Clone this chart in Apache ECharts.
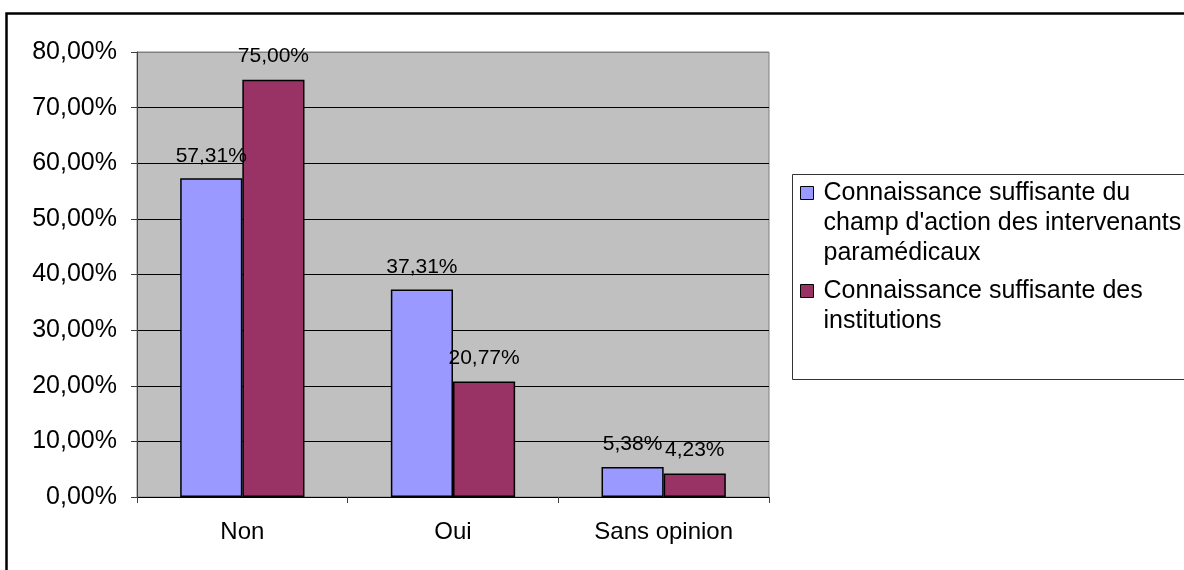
<!DOCTYPE html>
<html>
<head>
<meta charset="utf-8">
<script src="https://cdn.jsdelivr.net/npm/echarts@6/dist/echarts.min.js"></script>
<style>
html,body{margin:0;padding:0;background:#fff;}
#main{width:1184px;height:570px;}
</style>
</head>
<body>
<div id="main"></div>
<script>
const categories = ['Non', 'Oui', 'Sans opinion'];
const seriesNames = [
  "Connaissance suffisante du\nchamp d'action des intervenants\nparamédicaux",
  "Connaissance suffisante des\ninstitutions"
];
const valuesParamedical = [57.31, 37.31, 5.38];
const valuesInstitutions = [75.00, 20.77, 4.23];
const yTicks = { min: 0, max: 80, interval: 10 };

const FONT = '"Liberation Sans", Arial, sans-serif';
const fmt = v => Number(v).toFixed(2).replace('.', ',') + '%';
// put the icon beside the first text line: prepend (lines-1) blank lines
const topAlign = name => '\n'.repeat(name.split('\n').length - 1) + name;

const chart = echarts.init(document.getElementById('main'), null, { renderer: 'canvas' });
const splitColors = [];
for (let v = yTicks.min; v <= yTicks.max; v += yTicks.interval) splitColors.push(v === yTicks.max ? '#808080' : '#000000');

const legendBase = {
  orient: 'vertical', left: 800, padding: 0,
  itemWidth: 13, itemHeight: 13, icon: 'rect', selectedMode: false,
  itemStyle: { borderColor: '#000', borderWidth: 1 },
  formatter: topAlign,
  textStyle: { fontFamily: FONT, fontSize: 25, lineHeight: 30, color: '#000', padding: [0, 0, 0, 5] }
};

chart.setOption({
  backgroundColor: '#ffffff',
  animation: false,
  textStyle: { fontFamily: FONT },
  grid: {
    left: 137, top: 52, right: 1184 - 769, bottom: 73,
    show: true, backgroundColor: '#C0C0C0', borderColor: '#808080', borderWidth: 1,
    containLabel: false
  },
  legend: [
    Object.assign({}, legendBase, { data: [seriesNames[0]], top: 118 }),
    Object.assign({}, legendBase, { data: [seriesNames[1]], top: 246 })
  ],
  xAxis: {
    type: 'category',
    data: categories,
    axisLine: { show: true, lineStyle: { color: '#000', width: 1 } },
    axisTick: { show: true, alignWithLabel: false, length: 6, lineStyle: { color: '#404040' } },
    axisLabel: { fontFamily: FONT, fontSize: 24, color: '#000', margin: 23 }
  },
  yAxis: {
    type: 'value',
    min: yTicks.min, max: yTicks.max, interval: yTicks.interval,
    axisLine: { show: true, lineStyle: { color: '#404040', width: 1 } },
    axisTick: { show: true, inside: false, length: 6, lineStyle: { color: '#404040' } },
    axisLabel: { fontFamily: FONT, fontSize: 25, color: '#000', margin: 20, formatter: fmt },
    splitLine: { show: true, lineStyle: { color: splitColors, width: 1 } }
  },
  series: [
    {
      name: seriesNames[0], type: 'bar', data: valuesParamedical,
      barGap: '0%', barCategoryGap: '41%',
      itemStyle: { color: '#9999FF', borderColor: '#000', borderWidth: 1.5 },
      label: { show: true, position: 'top', distance: 12, formatter: p => fmt(p.value),
               fontFamily: FONT, fontSize: 21, color: '#000' }
    },
    {
      name: seriesNames[1], type: 'bar', data: valuesInstitutions,
      barGap: '0%', barCategoryGap: '41%',
      itemStyle: { color: '#993366', borderColor: '#000', borderWidth: 1.5 },
      label: { show: true, position: 'top', distance: 13, formatter: p => fmt(p.value),
               fontFamily: FONT, fontSize: 21, color: '#000' }
    }
  ],
  graphic: [
    { type: 'rect', left: 4, top: 11, z: 100, silent: true,
      shape: { x: 0, y: 0, width: 1220, height: 600 },
      style: { fill: 'none', stroke: '#000', lineWidth: 2.5 } },
    { type: 'rect', left: 790, top: 172, z: 100, silent: true,
      shape: { x: 0.5, y: 0.5, width: 420, height: 205 },
      style: { fill: 'none', stroke: '#333', lineWidth: 1 } }
  ]
});
</script>
</body>
</html>
